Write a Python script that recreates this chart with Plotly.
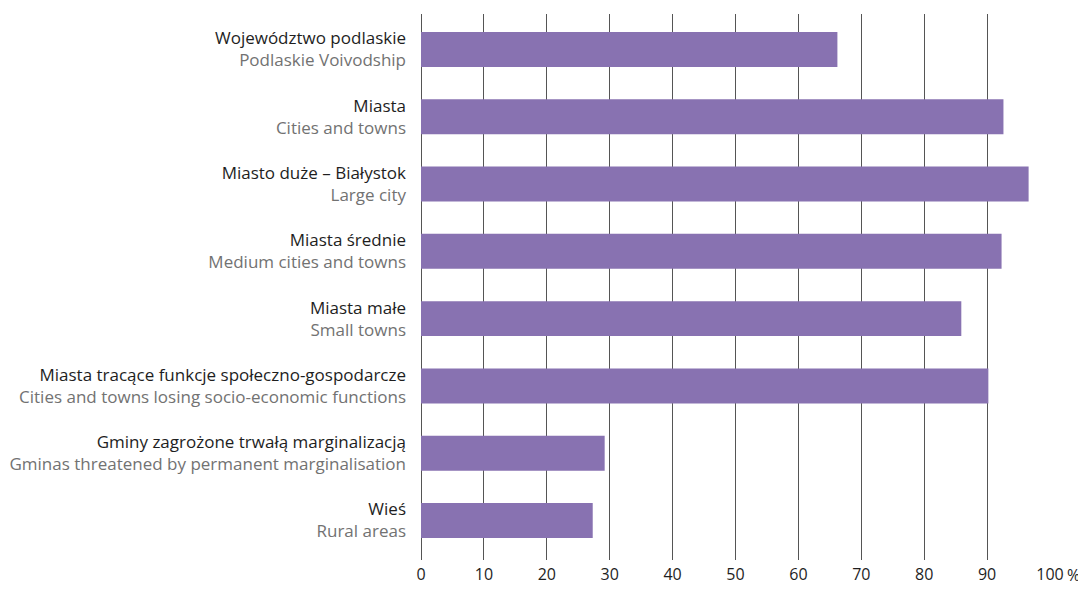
import plotly.graph_objects as go

pl_labels = [
    "Województwo podlaskie",
    "Miasta",
    "Miasto duże – Białystok",
    "Miasta średnie",
    "Miasta małe",
    "Miasta tracące funkcje społeczno-gospodarcze",
    "Gminy zagrożone trwałą marginalizacją",
    "Wieś",
]
en_labels = [
    "Podlaskie Voivodship",
    "Cities and towns",
    "Large city",
    "Medium cities and towns",
    "Small towns",
    "Cities and towns losing socio-economic functions",
    "Gminas threatened by permanent marginalisation",
    "Rural areas",
]
values = [66.2, 92.6, 96.6, 92.3, 85.9, 90.2, 29.2, 27.3]
x_ticks = [0, 10, 20, 30, 40, 50, 60, 70, 80, 90, 100]

cats = [f"{p}<br><span style='color:#727272'>{e}</span>" for p, e in zip(pl_labels, en_labels)]

fig = go.Figure(go.Bar(
    x=values, y=cats, orientation="h",
    marker=dict(color="#8872b1", line=dict(width=0)),
    width=0.52,
))

font_family = "Open Sans"
fs = 17
fig.update_layout(
    width=1078, height=581,
    margin=dict(l=413, r=36, t=6, b=29),
    paper_bgcolor="white", plot_bgcolor="white",
    showlegend=False,
    font=dict(family=font_family, size=fs, color="#1e1e1e"),
    xaxis=dict(
        range=[0, 100], tickvals=x_ticks, ticktext=[str(v) for v in x_ticks],
        showgrid=True, gridcolor="#555555", gridwidth=1,
        zeroline=True, zerolinecolor="#555555", zerolinewidth=1,
        showline=False, ticks="", ticklabelstandoff=3,
        tickfont=dict(size=16, color="#1e1e1e"),
        fixedrange=True, automargin=False,
    ),
    yaxis=dict(
        range=[7.587, -0.527], showgrid=False, zeroline=False, showline=False,
        ticks="", ticklabelstandoff=14, automargin=False,
        tickfont=dict(size=fs, color="#1e1e1e"),
    ),
    annotations=[dict(
        x=1, y=0, xref="paper", yref="paper", text="%", showarrow=False,
        xanchor="left", yanchor="top", xshift=15, yshift=-2,
        font=dict(size=16, color="#1e1e1e"),
    )],
)

fig.write_html("out.html")
